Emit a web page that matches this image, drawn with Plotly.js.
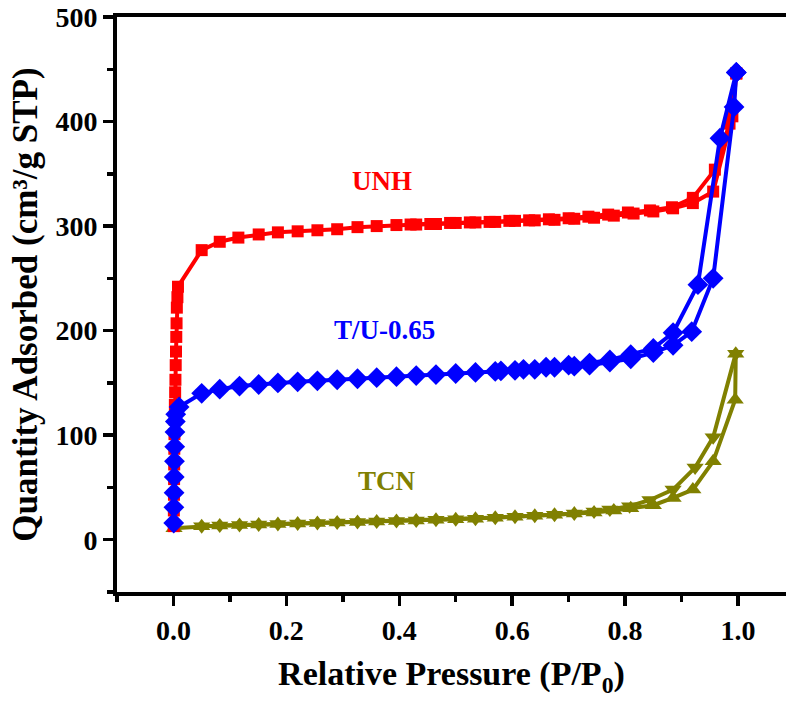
<!DOCTYPE html>
<html><head><meta charset="utf-8">
<script src="https://cdn.plot.ly/plotly-3.0.1.min.js"></script>
<style>html,body{margin:0;padding:0;background:#fff;overflow:hidden}#chart{width:789px;height:702px}</style>
</head><body><div id="chart"></div>
<script>
// UNH
const unhAdsP = [0.0005,0.0007,0.0009,0.0011,0.0013,0.0015,0.0018,0.0021,0.0025,0.003,0.0035,0.004,0.0045,0.005,0.0055,0.006,0.007,0.008,0.05,0.082,0.115,0.151,0.185,0.22,0.255,0.29,0.326,0.36,0.395,0.43,0.465,0.5,0.535,0.57,0.605,0.64,0.675,0.71,0.745,0.78,0.815,0.85,0.885,0.92,0.956,0.99,0.997];
const unhAdsQ = [13,28,43,58,72,87,101,115,129,141,153,167,180,194,207,222,232,242,277,285,289,292,294,295,296,297,299,300,301,301.5,302,303,303.5,304,305,305.5,306,307,308,310,312,314,317,322,333,405,446];
const unhDesP = [0.997,0.985,0.959,0.92,0.883,0.844,0.805,0.77,0.735,0.70,0.665,0.63,0.595,0.56,0.525,0.49,0.455,0.42];
const unhDesQ = [446,398,354,327,318,315,313,311,309,307.5,306.5,305.5,305,304,303.5,303,302,301.5];
// T/U-0.65
const tuAdsP = [0.0005,0.0008,0.0011,0.0014,0.0018,0.0022,0.0027,0.0033,0.004,0.01,0.05,0.082,0.117,0.151,0.185,0.22,0.255,0.29,0.326,0.36,0.395,0.43,0.465,0.5,0.535,0.57,0.605,0.64,0.675,0.71,0.737,0.773,0.81,0.85,0.885,0.918,0.956,0.993,0.997];
const tuAdsQ = [16,31,45,60,75,89,103,113,120,127,140,144,147,148.5,150,151,152,153,154,155,156,157,158,159,160,161,162,163,165,166,167,170,173,179,186,199,250,414,447];
const tuDesP = [0.997,0.968,0.929,0.885,0.85,0.81,0.773,0.737,0.70,0.66,0.62,0.58];
const tuDesQ = [447,384,244,198,183,177,172,169,167,165,163,161.5];
// TCN
const tcnAdsP = [0.001,0.05,0.082,0.117,0.151,0.185,0.22,0.255,0.29,0.326,0.36,0.395,0.43,0.465,0.5,0.535,0.57,0.605,0.64,0.675,0.71,0.745,0.78,0.81,0.85,0.885,0.92,0.956,0.995,0.996];
const tcnAdsQ = [11,13,13.5,14,14.5,15,15.5,16,16.5,17,17.5,18,18.5,19,19.5,20,21,22,23,24,25,26,28,30,33,40,48,75,134,178];
const tcnDesP = [0.996,0.956,0.924,0.885,0.844,0.808,0.773,0.745,0.71,0.675,0.64,0.605,0.57,0.535,0.5,0.465,0.43,0.395,0.36,0.326,0.29,0.255,0.22,0.185,0.151,0.117,0.082,0.05];
const tcnDesQ = [178,98,69,48,38,32,29,27,25,24,23,22,21,20,19.5,19,18.5,18,17.5,17,16.5,16,15.5,15,14.5,14,13.5,13];

const labels = ['UNH','T/U-0.65','TCN'];
const labelP = [0.369,0.374,0.379];
const labelQ = [343,201,56];
const colors = ['#FF0000','#0000FF','#808000'];

const FONT = '"Liberation Serif","Times New Roman",serif';
function tr(x,y,sym,col,size){
  return {x:x,y:y,type:'scatter',mode:'lines+markers',
    line:{color:col,width:4},marker:{symbol:sym,color:col,size:size,line:{width:0}},
    showlegend:false,hoverinfo:'skip',cliponaxis:false};
}
const data = [
  tr(tcnAdsP,tcnAdsQ,'triangle-up',colors[2],15),
  tr(tcnDesP,tcnDesQ,'triangle-down',colors[2],15),
  tr(unhAdsP,unhAdsQ,'square',colors[0],12),
  tr(unhDesP,unhDesQ,'square',colors[0],12),
  tr(tuAdsP,tuAdsQ,'diamond',colors[1],16),
  tr(tuDesP,tuDesQ,'diamond',colors[1],16)
];
const annotations = labels.map((t,i)=>({x:labelP[i],y:labelQ[i],xref:'x',yref:'y',text:'<b>'+t+'</b>',showarrow:false,
  font:{family:FONT,size:27,color:colors[i]}}));

const layout = {
  width:789,height:702,
  margin:{l:117,r:3,t:17,b:110},
  paper_bgcolor:'#fff',plot_bgcolor:'#fff',
  font:{family:FONT,color:'#000'},
  xaxis:{range:[-0.1,1.085],showgrid:false,zeroline:false,
    showline:true,linecolor:'#000',linewidth:4,mirror:true,
    ticks:'outside',ticklen:10,tickwidth:3.5,tickcolor:'#000',
    tick0:0,dtick:0.2,tickformat:'.1f',
    minor:{ticks:'outside',ticklen:6,tickwidth:3.5,tickcolor:'#000',dtick:0.1,tick0:0},
    tickfont:{family:FONT,size:28,color:'#000',weight:'bold'},
    title:{text:'<b>Relative Pressure (P/P<sub>0</sub>)</b>',font:{family:FONT,size:34,color:'#000'},standoff:18}},
  yaxis:{range:[-50,500],showgrid:false,zeroline:false,
    showline:true,linecolor:'#000',linewidth:4,
    ticks:'outside',ticklen:10,tickwidth:3.5,tickcolor:'#000',
    tick0:0,dtick:100,
    minor:{ticks:'outside',ticklen:6,tickwidth:3.5,tickcolor:'#000',dtick:50,tick0:0},
    tickfont:{family:FONT,size:28,color:'#000',weight:'bold'},
    title:{text:'<b>Quantity Adsorbed (cm³/g STP)</b>',font:{family:FONT,size:35,color:'#000'},standoff:8}},
  annotations:annotations
};
Plotly.newPlot('chart',data,layout,{staticPlot:true,displayModeBar:false});
</script></body></html>
